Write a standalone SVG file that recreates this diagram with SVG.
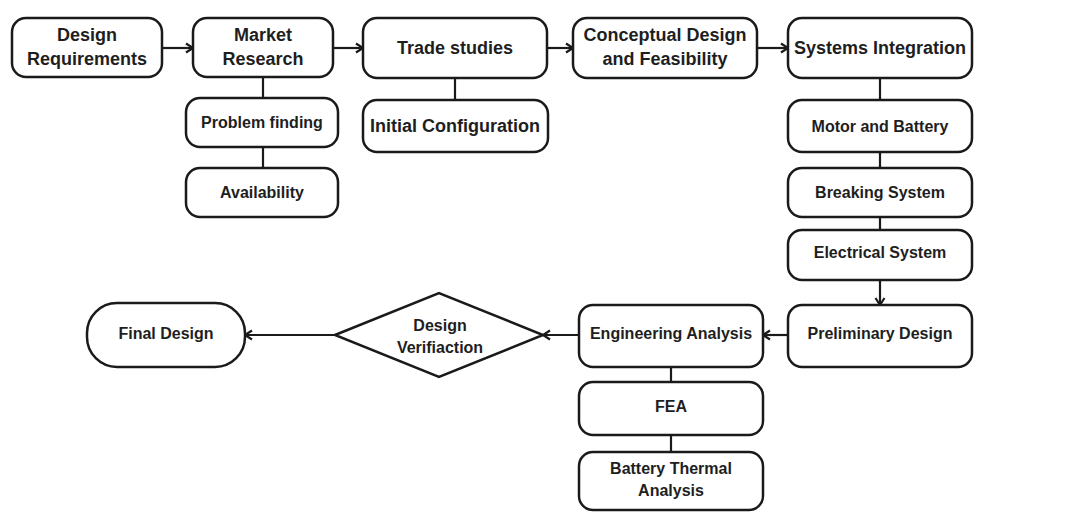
<svg xmlns="http://www.w3.org/2000/svg" width="1081" height="529" viewBox="0 0 1081 529">
<style>
.box{fill:#fff;stroke:#1a1a1a;stroke-width:2.5}
.t{font-family:"Liberation Sans",Arial,sans-serif;font-weight:bold;fill:#1e1e1e;text-anchor:middle}
.l{font-size:18px}
.s{font-size:16px}
.c{fill:none;stroke:#1a1a1a;stroke-width:2.2}
</style>
<defs>
<marker id="ah" markerUnits="userSpaceOnUse" markerWidth="14" markerHeight="14" refX="10" refY="7" orient="auto">
<path d="M3,2.5 L10,7 L3,11.5" fill="none" stroke="#1a1a1a" stroke-width="2.2"/>
</marker>
</defs>
<rect width="1081" height="529" fill="#fff"/>
<g id="connectors">
<line class="c" x1="162" y1="48" x2="193" y2="48" marker-end="url(#ah)"/>
<line class="c" x1="333" y1="48" x2="363" y2="48" marker-end="url(#ah)"/>
<line class="c" x1="547" y1="48" x2="573" y2="48" marker-end="url(#ah)"/>
<line class="c" x1="757" y1="48" x2="788" y2="48" marker-end="url(#ah)"/>
<line class="c" x1="263" y1="77" x2="263" y2="98"/>
<line class="c" x1="263" y1="147" x2="263" y2="168"/>
<line class="c" x1="455" y1="78" x2="455" y2="100"/>
<line class="c" x1="880" y1="78" x2="880" y2="100"/>
<line class="c" x1="880" y1="152" x2="880" y2="168"/>
<line class="c" x1="880" y1="217" x2="880" y2="230"/>
<line class="c" x1="880" y1="280" x2="880" y2="305" marker-end="url(#ah)"/>
<line class="c" x1="788" y1="335" x2="763" y2="335" marker-end="url(#ah)"/>
<line class="c" x1="579" y1="335" x2="543" y2="335" marker-end="url(#ah)"/>
<line class="c" x1="335" y1="335" x2="245" y2="335" marker-end="url(#ah)"/>
<line class="c" x1="671" y1="367" x2="671" y2="382"/>
<line class="c" x1="671" y1="435" x2="671" y2="452"/>
</g>
<g id="design-requirements">
<rect class="box" x="12" y="18" width="150" height="59" rx="14"/>
<text class="t l" x="87" y="41">Design</text>
<text class="t l" x="87" y="65">Requirements</text>
</g>
<g id="market-research">
<rect class="box" x="193" y="18" width="140" height="59" rx="14"/>
<text class="t l" x="263" y="41">Market</text>
<text class="t l" x="263" y="65">Research</text>
</g>
<g id="problem-finding">
<rect class="box" x="186" y="98" width="152" height="49" rx="14"/>
<text class="t s" x="262" y="128">Problem finding</text>
</g>
<g id="availability">
<rect class="box" x="186" y="168" width="152" height="49" rx="14"/>
<text class="t s" x="262" y="198">Availability</text>
</g>
<g id="trade-studies">
<rect class="box" x="363" y="18" width="184" height="60" rx="14"/>
<text class="t l" x="455" y="54">Trade studies</text>
</g>
<g id="initial-configuration">
<rect class="box" x="363" y="100" width="185" height="52" rx="14"/>
<text class="t l" x="455" y="132">Initial Configuration</text>
</g>
<g id="conceptual-design">
<rect class="box" x="573" y="18" width="184" height="60" rx="14"/>
<text class="t l" x="665" y="41">Conceptual Design</text>
<text class="t l" x="665" y="65">and Feasibility</text>
</g>
<g id="systems-integration">
<rect class="box" x="788" y="18" width="184" height="60" rx="14"/>
<text class="t l" x="880" y="54">Systems Integration</text>
</g>
<g id="motor-battery">
<rect class="box" x="788" y="100" width="184" height="52" rx="14"/>
<text class="t s" x="880" y="132">Motor and Battery</text>
</g>
<g id="breaking-system">
<rect class="box" x="788" y="168" width="184" height="49" rx="14"/>
<text class="t s" x="880" y="198">Breaking System</text>
</g>
<g id="electrical-system">
<rect class="box" x="788" y="230" width="184" height="50" rx="14"/>
<text class="t s" x="880" y="258">Electrical System</text>
</g>
<g id="preliminary-design">
<rect class="box" x="788" y="305" width="184" height="62" rx="14"/>
<text class="t s" x="880" y="339">Preliminary Design</text>
</g>
<g id="engineering-analysis">
<rect class="box" x="579" y="305" width="184" height="62" rx="14"/>
<text class="t s" x="671" y="339">Engineering Analysis</text>
</g>
<g id="fea">
<rect class="box" x="579" y="382" width="184" height="53" rx="14"/>
<text class="t s" x="671" y="412">FEA</text>
</g>
<g id="battery-thermal">
<rect class="box" x="579" y="452" width="184" height="58" rx="14"/>
<text class="t s" x="671" y="474">Battery Thermal</text>
<text class="t s" x="671" y="496">Analysis</text>
</g>
<g id="design-verification">
<polygon class="box" points="335,335 439,293 543,335 439,377"/>
<text class="t s" x="440" y="331">Design</text>
<text class="t s" x="440" y="353">Verifiaction</text>
</g>
<g id="final-design">
<rect class="box" x="87" y="303" width="158" height="64" rx="30"/>
<text class="t s" x="166" y="339">Final Design</text>
</g>
</svg>
